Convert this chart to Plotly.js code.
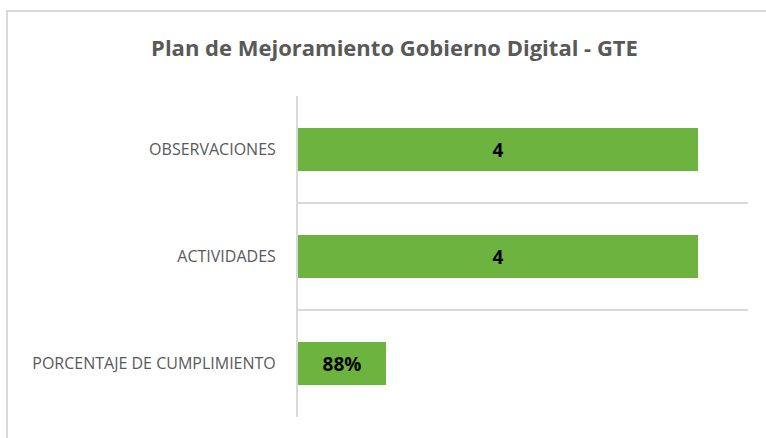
<!DOCTYPE html>
<html>
<head>
<meta charset="utf-8">
<script src="https://cdn.plot.ly/plotly-3.0.1.min.js"></script>
<style>
  html, body { margin: 0; padding: 0; background: #fff; }
  #wrap { position: relative; width: 766px; height: 438px; overflow: hidden; }
  #chart { width: 766px; height: 438px; }
  #frame { position: absolute; left: 6px; top: 10px; width: 780px; height: 440px;
           border-left: 2px solid #d9d9d9; border-top: 2px solid #d9d9d9; pointer-events: none; }
</style>
</head>
<body>
<div id="wrap">
  <div id="chart"></div>
  <div id="frame"></div>
</div>
<script>
const categories = ["PORCENTAJE DE CUMPLIMIENTO", "ACTIVIDADES", "OBSERVACIONES"];
const values = [0.88, 4, 4];
const valueLabels = values.map(v => v < 1 ? Math.round(v * 100) + "%" : String(v));
const chartTitle = "Plan de Mejoramiento Gobierno Digital - GTE";

const trace = {
  type: "bar",
  orientation: "h",
  y: categories,
  x: values,
  text: valueLabels,
  textposition: "inside",
  insidetextanchor: "middle",
  textangle: 0,
  constraintext: "none",
  textfont: { family: "Open Sans, sans-serif", size: 19, color: "#000000", weight: "bold" },
  marker: { color: "#6db33f", line: { width: 0 } },
  hoverinfo: "none"
};

const layout = {
  width: 766, height: 438,
  margin: { l: 298, r: 18, t: 96, b: 21 },
  paper_bgcolor: "#ffffff",
  plot_bgcolor: "#ffffff",
  showlegend: false,
  bargap: 0.6,
  title: {
    text: "<b>" + chartTitle + "</b>",
    font: { family: "Open Sans, sans-serif", size: 22, color: "#595959" },
    x: 0.515, xanchor: "center", y: 0.89, yanchor: "middle"
  },
  xaxis: {
    range: [0, 4.5], showgrid: false, zeroline: false, showticklabels: false,
    showline: false, ticks: "", fixedrange: true
  },
  yaxis: {
    type: "category", categoryorder: "array", categoryarray: categories,
    tickson: "boundaries", showgrid: true, gridcolor: "#d9d9d9", gridwidth: 1.5,
    showline: true, linecolor: "#d9d9d9", linewidth: 2,
    ticks: "", ticklabelstandoff: 17,
    tickfont: { family: "Open Sans, sans-serif", size: 16, color: "#595959" },
    fixedrange: true
  }
};

Plotly.newPlot("chart", [trace], layout, { displayModeBar: false, staticPlot: true });
</script>
</body>
</html>
